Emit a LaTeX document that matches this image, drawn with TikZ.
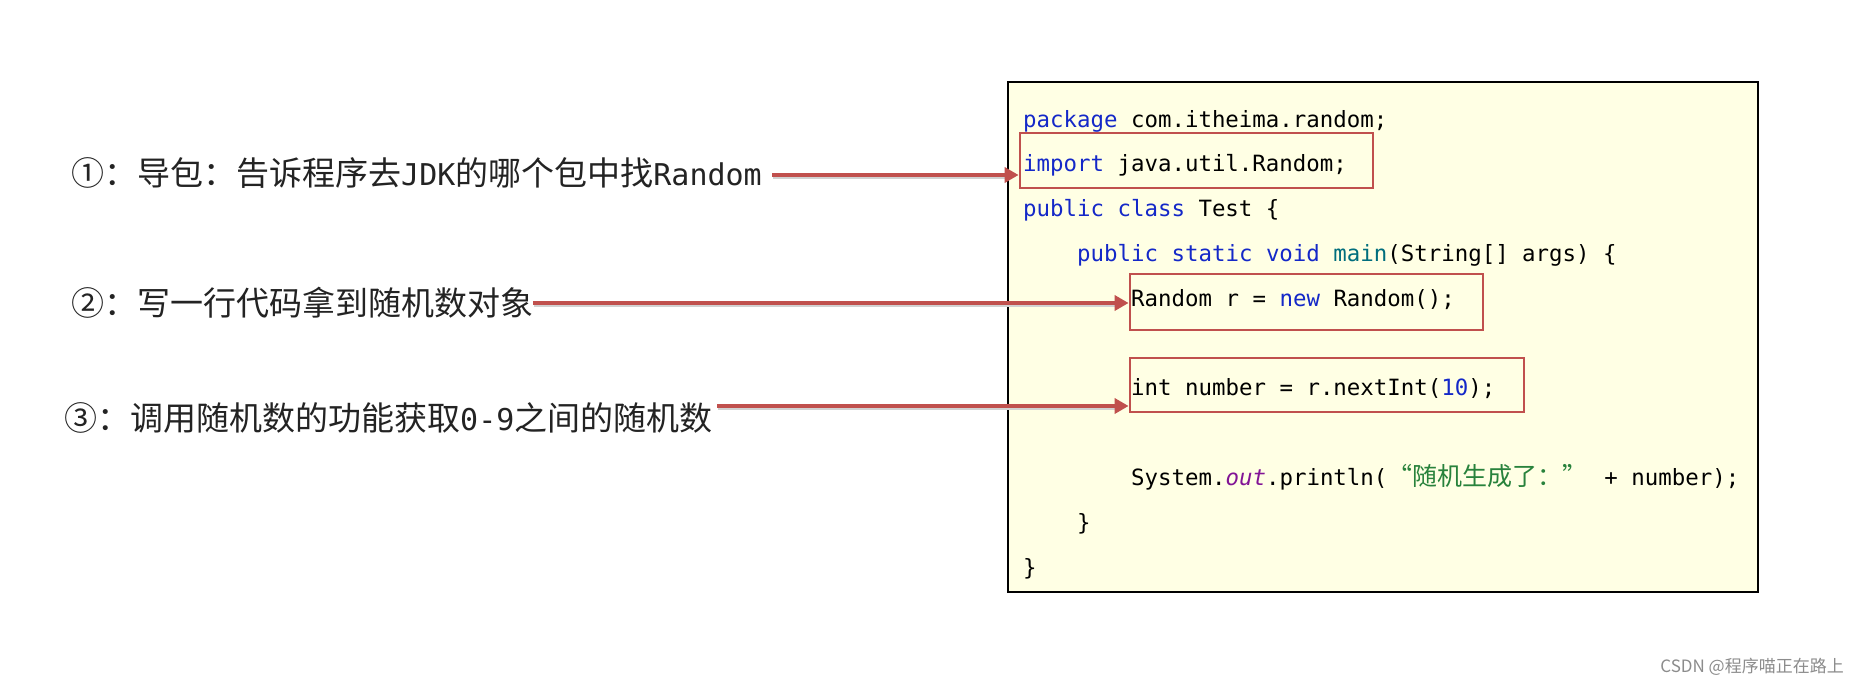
\documentclass[tikz,border=0pt]{standalone}
\usepackage{fontspec}
\newfontfamily\cjkfont{Noto Sans CJK SC}
\newfontfamily\monofont{DejaVu Sans Mono}
\usetikzlibrary{arrows.meta}
\definecolor{redc}{RGB}{192,80,77}
\definecolor{codebg}{RGB}{255,255,228}
\definecolor{kw}{RGB}{20,40,200}
\definecolor{mn}{RGB}{0,110,125}
\definecolor{outc}{RGB}{130,20,150}
\definecolor{strc}{RGB}{40,130,60}
\definecolor{lbltext}{RGB}{35,35,35}
\newcommand{\lmono}{\monofont\fontsize{30}{36}\selectfont}
\tikzset{
  lbl/.style={anchor=west, inner sep=0pt, text=lbltext, font=\cjkfont\fontsize{33}{40}\selectfont},
  codebox/.style={draw=black, line width=2pt, fill=codebg, inner sep=0pt},
  redbox/.style={draw=redc, line width=2.8pt, inner sep=0pt},
  codeln/.style={anchor=base west, inner sep=0pt, font=\monofont\fontsize{22.4}{27}\selectfont},
  arr/.style={draw=redc, line width=3.5pt, -{Triangle[length=14pt,width=15pt]}},
  shadowln/.style={draw=black!18, line width=3pt, shorten >=12pt, transform canvas={shift={(1pt,-2.5pt)}}},
}
\begin{document}
\begin{tikzpicture}[x=1pt,y=-1pt]
\useasboundingbox (0,0) rectangle (1860,685);
\fill[white] (0,0) rectangle (1860,685);
% code panel
\node[codebox, minimum width=750pt, minimum height=510pt] (code) at (1383,337) {};
% code lines
\node[codeln] (c0) at (1023,127) {{\color{kw}package} com.itheima.random;};
\node[codeln] (c1) at (1023,171.8) {{\color{kw}import} java.util.Random;};
\node[codeln] (c2) at (1023,216.6) {{\color{kw}public class} Test \{};
\node[codeln] (c3) at (1077,261.4) {{\color{kw}public static void} {\color{mn}main}(String[] args) \{};
\node[codeln] (c4) at (1131,306.2) {Random r = {\color{kw}new} Random();};
\node[codeln] (c6) at (1131,395.8) {int number = r.nextInt({\color{kw}10});};
\node[codeln] (c8) at (1131,485.4) {System.{\color{outc}\itshape out}.println(\makebox[190pt][l]{\cjkfont\fontsize{25}{30}\selectfont\color{strc}“随机生成了：”}\hspace*{27pt}+ number);};
\node[codeln] (c9) at (1077,530.2) {\}};
\node[codeln] (c10) at (1023,575) {\}};
% red highlight boxes
\node[redbox, minimum width=353pt, minimum height=55pt] (box1) at (1196.5,160.5) {};
\node[redbox, minimum width=353pt, minimum height=56pt] (box2) at (1306.5,302) {};
\node[redbox, minimum width=394pt, minimum height=54pt] (box3) at (1327,385) {};
% labels
\node[lbl] (t1) at (71,173) {①：导包：告诉程序去{\lmono JDK}的哪个包中找{\lmono Random}};
\node[lbl] (t2) at (71,303) {②：写一行代码拿到随机数对象};
\node[lbl] (t3) at (64,418) {③：调用随机数的功能获取{\lmono 0-9}之间的随机数};
% arrow start points
\coordinate (a1) at (772,175);
\coordinate (a2) at (533,303);
\coordinate (a3) at (717,406);
\foreach \s/\e in {a1/box1, a2/box2, a3/box3} {
  \draw[shadowln] (\s) -- (\s -| \e.west);
  \draw[arr] (\s) -- (\s -| \e.west);
}
% watermark
\node[anchor=east, inner sep=0pt, text=black!45, font=\cjkfont\fontsize{17}{20}\selectfont] (wm) at (1844,667) {CSDN @程序喵正在路上};
\end{tikzpicture}
\end{document}
